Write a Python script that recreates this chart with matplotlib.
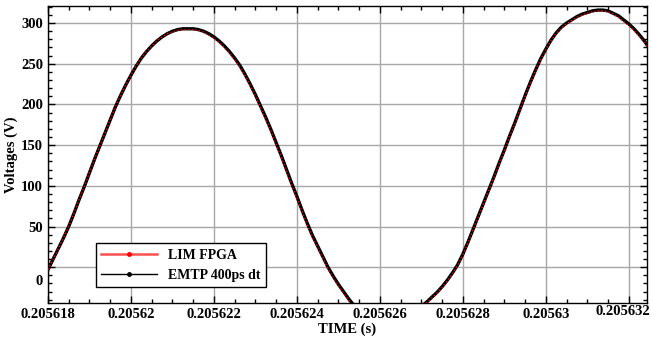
import matplotlib
matplotlib.use("Agg")
import matplotlib.pyplot as plt
from matplotlib.lines import Line2D
from matplotlib.ticker import FixedLocator, FixedFormatter, MultipleLocator
from matplotlib.transforms import ScaledTranslation
import numpy as np

# time offset from t0, in microseconds (every 0.125 us)
t0 = 0.205618
time_us = [i * 0.125 for i in range(117)]

emtp_v = [-3, 10, 23, 36, 50, 66, 83, 99, 116, 133, 149, 165,
          181, 197, 211, 224, 236, 247, 257, 265, 272, 278, 283, 287,
          290, 292, 293, 293, 293, 292, 290, 287, 283, 278, 272, 265,
          257, 248, 237, 225, 212, 198, 184, 169, 153, 137, 120, 103,
          87, 70, 54, 39, 26, 13, 0, -11, -21, -30, -39, -47,
          -55, -61, -66, -70, -73, -74, -74, -73, -70, -66, -60, -54,
          -48, -43, -37, -31, -24, -16, -7, 3, 16, 31, 47, 63,
          79, 95, 111, 128, 144, 161, 177, 194, 211, 227, 242, 256,
          268, 279, 288, 295, 300, 304, 308, 311, 313, 315, 316, 316,
          315, 312, 309, 304, 299, 293, 286, 278, 269]

fpga_v = [-3, 10, 23, 36, 50, 66, 83, 99, 116, 133, 149, 165,
          181, 197, 211, 224, 236, 247, 257, 265, 272, 278, 283, 287,
          289, 291, 292, 292, 292, 291, 289, 285, 281, 276, 270, 263,
          255, 246, 235, 223, 210, 196, 182, 167, 151, 135, 118, 101,
          85, 68, 52, 37, 24, 11, -2, -13, -23, -32, -41, -49,
          -57, -63, -68, -72, -75, -76, -76, -74, -71, -67, -61, -55,
          -49, -44, -38, -32, -25, -17, -8, 2, 15, 30, 46, 62,
          78, 94, 110, 127, 143, 160, 176, 193, 210, 226, 241, 255,
          267, 278, 287, 294, 299, 303, 307, 310, 312, 314, 315, 315,
          314, 311, 307, 302, 297, 291, 284, 276, 267]

xticks_us = [0, 2, 4, 6, 8, 10, 12, 14]
xtick_labels = ["0.205618", "0.20562", "0.205622", "0.205624",
                "0.205626", "0.205628", "0.20563", "0.205632"]
yticks = [0, 50, 100, 150, 200, 250, 300]

plt.rcParams['font.family'] = ['Liberation Serif', 'DejaVu Serif']
plt.rcParams['font.weight'] = 'bold'

fig = plt.figure(figsize=(6.51, 3.39), dpi=100)
ax = fig.add_axes([0.0737, 0.1062, 0.9202, 0.8761])

t = t0 + np.array(time_us) * 1e-6
ax.plot(t, emtp_v, color='black', lw=2.4, zorder=3)
ax.plot(t, fpga_v, color='red', lw=1.0, ls=(0, (1, 1.6)), zorder=4)

ax.set_xlim(t0, t0 + 14.44e-6)
ax.set_ylim(-44, 321)

ax.xaxis.set_major_locator(FixedLocator([t0 + v * 1e-6 for v in xticks_us]))
ax.xaxis.set_major_formatter(FixedFormatter(xtick_labels))
ax.xaxis.set_minor_locator(FixedLocator([t0 + v * 0.5e-6 for v in range(0, 30)]))
ax.set_yticks(yticks)
ax.yaxis.set_minor_locator(MultipleLocator(10))

ax.tick_params(which='both', direction='in', top=True, right=True,
               labelsize=10.5, width=1)
ax.tick_params(which='major', length=5)
ax.tick_params(which='minor', length=3)
for lab in ax.get_xticklabels() + ax.get_yticklabels():
    lab.set_fontweight('bold')

# the reference has the last x label nudged in and the "0" label set lower
xl = ax.get_xticklabels()[-1]
xl.set_transform(xl.get_transform() + ScaledTranslation(-0.06, 0.03, fig.dpi_scale_trans))
yl = ax.get_yticklabels()[0]
yl.set_transform(yl.get_transform() + ScaledTranslation(0, -0.13, fig.dpi_scale_trans))

ax.grid(True, which='major', color='#a8a8a8', lw=1)
ax.set_axisbelow(True)
for s in ax.spines.values():
    s.set_linewidth(1)

ax.set_xlabel("TIME (s)", fontsize=10.5, fontweight='bold', labelpad=1)
ax.set_ylabel("Voltages (V)", fontsize=10.5, fontweight='bold', labelpad=2)

handles = [Line2D([], [], color='#ff5050', lw=1.8, marker='o', markersize=2.5,
                  markerfacecolor='red', markeredgecolor='red'),
           Line2D([], [], color='black', lw=1, marker='o', markersize=2.5)]
leg = ax.legend(handles, ["LIM FPGA", "EMTP 400ps dt"], loc='upper left',
                bbox_to_anchor=(0.08, 0.202), borderaxespad=0, fancybox=False,
                edgecolor='black', framealpha=1, handlelength=4,
                prop={'weight': 'bold', 'size': 10})
leg.get_frame().set_linewidth(1)

fig.savefig("out.png", dpi=100)
